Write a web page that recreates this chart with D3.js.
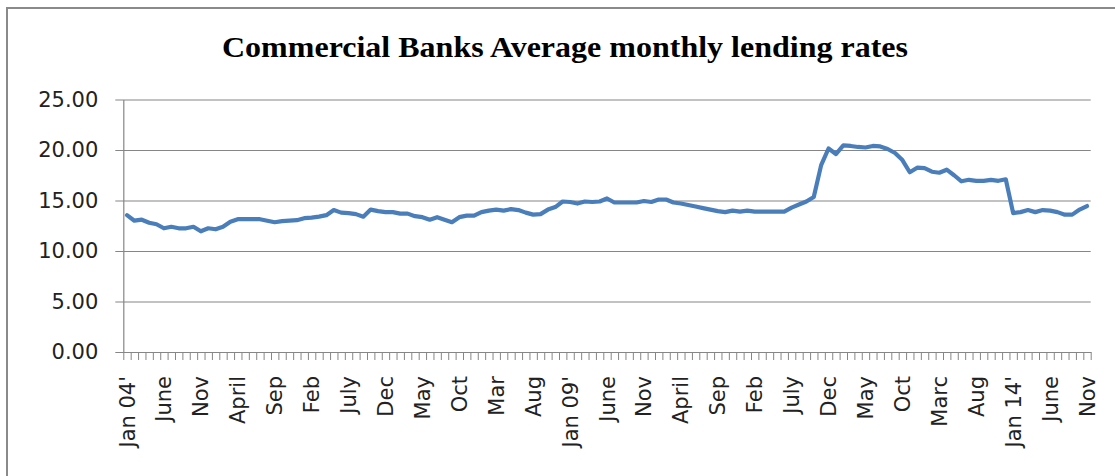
<!DOCTYPE html>
<html>
<head>
<meta charset="utf-8">
<script src="https://cdn.jsdelivr.net/npm/d3@7"></script>
<style>
  html, body { margin: 0; padding: 0; background: #fff; }
  svg { display: block; }
</style>
</head>
<body>
<svg id="chart" width="1115" height="476"></svg>
<script>
// Average monthly lending rate of commercial banks, Jan 2004 – Nov 2014 (%)
const lendingRates = [
  13.55, 13.0, 13.1, 12.8, 12.65, 12.25, 12.4, 12.25, 12.25, 12.4,   // 2004 Jan–Oct
  11.95, 12.25, 12.15, 12.4, 12.9, 13.15, 13.15, 13.15, 13.15, 13.0, // 2004 Nov – 2005 Aug
  12.85, 12.95, 13.0, 13.05, 13.25, 13.3, 13.4, 13.55, 14.05, 13.8,  // 2005 Sep – 2006 Jun
  13.75, 13.65, 13.4, 14.1, 13.95, 13.85, 13.85, 13.7, 13.7, 13.45,  // 2006 Jul – 2007 Apr
  13.35, 13.1, 13.35, 13.1, 12.85, 13.35, 13.5, 13.5, 13.85, 14.0,   // 2007 May – 2008 Feb
  14.1, 14.0, 14.15, 14.05, 13.8, 13.6, 13.65, 14.1, 14.35, 14.9,    // 2008 Mar – 2008 Dec
  14.85, 14.7, 14.9, 14.85, 14.9, 15.2, 14.8, 14.8, 14.8, 14.8,      // 2009 Jan–Oct
  14.95, 14.85, 15.1, 15.1, 14.8, 14.7, 14.55, 14.4, 14.25, 14.1,    // 2009 Nov – 2010 Aug
  13.95, 13.85, 14.0, 13.9, 14.0, 13.9, 13.9, 13.9, 13.9, 13.9,      // 2010 Sep – 2011 Jun
  14.3, 14.6, 14.9, 15.35, 18.5, 20.15, 19.6, 20.45, 20.4, 20.3,     // 2011 Jul – 2012 Apr
  20.25, 20.4, 20.35, 20.1, 19.7, 19.0, 17.8, 18.25, 18.2, 17.85,    // 2012 May – 2013 Feb
  17.75, 18.05, 17.5, 16.9, 17.05, 16.95, 16.95, 17.05, 16.95, 17.1, // 2013 Mar – 2013 Dec
  13.75, 13.85, 14.05, 13.85, 14.05, 14.0, 13.85, 13.6, 13.6, 14.1,  // 2014 Jan–Oct
  14.45                                                              // 2014 Nov
];

// Category axis labels, one every five months starting at Jan 2004
const xTickLabels = [
  "Jan 04'", "June", "Nov", "April", "Sep", "Feb", "July", "Dec", "May",
  "Oct", "Mar", "Aug", "Jan 09'", "June", "Nov", "April", "Sep", "Feb",
  "July", "Dec", "May", "Oct", "Marc", "Aug", "Jan 14'", "June", "Nov"
];
const xLabelStep = 5;

const yTickValues = [0, 5, 10, 15, 20, 25];

const chartTitle = "Commercial Banks Average monthly lending rates";

// ---- layout ----
const plot = { left: 123.3, right: 1090.7, top: 99.5, bottom: 352 };
const gridColor = "#868686";
const lineColor = "#4a7ebb";
const axisFont = "'DejaVu Sans', 'Open Sans', sans-serif";

const svg = d3.select("#chart");

// chart frame
svg.append("rect")
  .attr("x", 7).attr("y", 8)
  .attr("width", 1300).attr("height", 700)
  .attr("fill", "#fff")
  .attr("stroke", "#8a8a8a")
  .attr("stroke-width", 2);

// title
svg.append("text")
  .attr("x", 565).attr("y", 57)
  .attr("text-anchor", "middle")
  .attr("font-family", "'Liberation Serif', 'Times New Roman', serif")
  .attr("font-weight", "bold")
  .attr("font-size", 30)
  .attr("textLength", 686)
  .attr("lengthAdjust", "spacingAndGlyphs")
  .attr("fill", "#000")
  .text(chartTitle);

// scales
const n = lendingRates.length;
const x = d3.scaleBand()
  .domain(d3.range(n))
  .range([plot.left, plot.right])
  .padding(0);
const xEdge = d3.scaleLinear()
  .domain([0, n])
  .range([plot.left, plot.right]);
const y = d3.scaleLinear()
  .domain([0, 25])
  .range([plot.bottom, plot.top]);

// horizontal gridlines with outward ticks and labels
const yAxis = d3.axisLeft(y)
  .tickValues(yTickValues)
  .tickSize(-(plot.right - plot.left))
  .tickSizeOuter(0)
  .tickPadding(0)
  .tickFormat(d3.format(".2f"));

const yG = svg.append("g")
  .attr("transform", `translate(${plot.left},0)`)
  .call(yAxis);
yG.select(".domain").attr("stroke", gridColor).attr("stroke-width", 1.2);
yG.selectAll(".tick line")
  .attr("stroke", gridColor)
  .attr("stroke-width", 1.2)
  .attr("x1", -8);
yG.selectAll(".tick text")
  .attr("x", -25)
  .attr("font-family", axisFont)
  .attr("font-size", 21)
  .attr("fill", "#222");

// category boundary ticks along the bottom
const xTicks = d3.axisBottom(xEdge)
  .tickValues(d3.range(n + 1))
  .tickSize(8)
  .tickSizeOuter(0)
  .tickFormat("");
const xG = svg.append("g")
  .attr("transform", `translate(0,${plot.bottom})`)
  .call(xTicks);
xG.select(".domain").attr("stroke", gridColor).attr("stroke-width", 1.2);
xG.selectAll(".tick line").attr("stroke", gridColor).attr("stroke-width", 1);

// rotated month labels
const xLabelAxis = d3.axisBottom(x)
  .tickValues(xTickLabels.map((_, k) => k * xLabelStep))
  .tickSize(0)
  .tickFormat(d => xTickLabels[d / xLabelStep]);
const xl = svg.append("g")
  .attr("transform", `translate(0,${plot.bottom})`)
  .call(xLabelAxis);
xl.select(".domain").remove();
xl.selectAll(".tick text")
  .attr("font-family", axisFont)
  .attr("font-size", 21)
  .attr("fill", "#222")
  .attr("text-anchor", "end")
  .attr("transform", "rotate(-90)")
  .attr("x", -24)
  .attr("y", 0)
  .attr("dy", "0.36em");

// rate line
const line = d3.line()
  .x((d, i) => x(i) + x.bandwidth() / 2)
  .y(d => y(d));

svg.append("path")
  .datum(lendingRates)
  .attr("d", line)
  .attr("fill", "none")
  .attr("stroke", lineColor)
  .attr("stroke-width", 4.2)
  .attr("stroke-linejoin", "round")
  .attr("stroke-linecap", "round");
</script>
</body>
</html>
